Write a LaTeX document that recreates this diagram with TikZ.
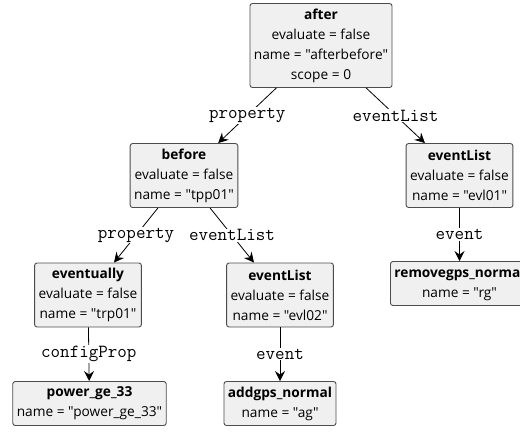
\documentclass[tikz,border=0pt]{standalone}
\usepackage{fontspec}
\setmainfont{Open Sans}[Ligatures=TeXOff]
\usepackage{tikz}
\usetikzlibrary{arrows.meta}

\begin{document}
\begin{tikzpicture}[x=1pt,y=-1pt,
  obj/.style={draw=black!70, fill=black!6, rounded corners=2.5pt, align=center,
    font=\fontsize{13.7}{20}\selectfont, inner xsep=4pt, inner ysep=0pt, line width=0.9pt},
  nrows/.style={minimum height=#1*20pt+4pt},
  role/.style={fill=white, inner sep=1pt, font=\fontsize{18.5}{18.5}\selectfont\ttfamily},
  link/.style={line width=0.8pt, -{Stealth[length=10pt,width=10pt,inset=3.5pt]}}]
\useasboundingbox (0,0) rectangle (520,432);
\clip (0,0) rectangle (520,432);
% objects
\node[obj,nrows=4] (after) at (321,45.5) {\textbf{after}\\evaluate = false\\name = "afterbefore"\\scope = 0};
\node[obj,nrows=3] (before) at (184,175.5) {\textbf{before}\\evaluate = false\\name = "tpp01"};
\node[obj,nrows=3] (evl01) at (459.5,175.5) {\textbf{eventList}\\evaluate = false\\name = "evl01"};
\node[obj,nrows=3] (eventually) at (88,295) {\textbf{eventually}\\evaluate = false\\name = "trp01"};
\node[obj,nrows=3] (evl02) at (280,295) {\textbf{eventList}\\evaluate = false\\name = "evl02"};
\node[obj,nrows=2] (rg) at (459.5,283.5) {\textbf{removegps\_normal}\\name = "rg"};
\node[obj,nrows=2] (power) at (89.5,403.5) {\textbf{power\_ge\_33}\\name = "power\_ge\_33"};
\node[obj,nrows=2] (ag) at (280,403.5) {\textbf{addgps\_normal}\\name = "ag"};
% links
\draw[link] (after) -- node[role] (r1) {property} (before);
\draw[link] (after) -- node[role] (r2) {eventList} (evl01);
\draw[link] (before) -- node[role] (r3) {property} (eventually);
\draw[link] (before) -- node[role] (r4) {eventList} (evl02);
\draw[link] (evl01) -- node[role] (r5) {event} (rg);
\draw[link] (eventually) -- node[role] (r6) {configProp} (power);
\draw[link] (evl02) -- node[role] (r7) {event} (ag);
\end{tikzpicture}
\end{document}
